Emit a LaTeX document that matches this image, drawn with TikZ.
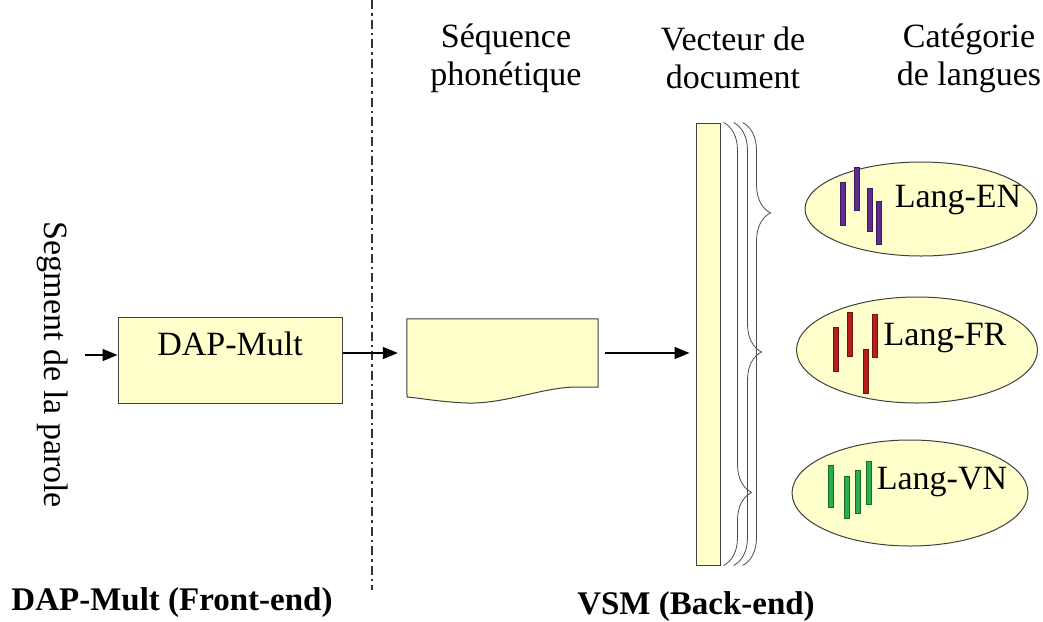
\documentclass[tikz,border=0pt]{standalone}
\usepackage{fontspec}
\setmainfont{Liberation Serif}
\usetikzlibrary{shapes.geometric,arrows.meta,decorations.pathreplacing}

\definecolor{paleyellow}{RGB}{255,255,204}
\definecolor{enpurple}{RGB}{95,45,145}
\definecolor{frred}{RGB}{185,30,30}
\definecolor{vngreen}{RGB}{40,175,75}
\newcommand{\txtsize}{\fontsize{34}{38}\selectfont}
\newcommand{\capsize}{\fontsize{33}{38}\selectfont\bfseries}

\begin{document}
\begin{tikzpicture}[x=1pt,y=-1pt,
	box/.style={draw=black!75, fill=paleyellow, line width=1pt},
	flow/.style={-{Triangle[length=15pt,width=12pt]}, line width=1.5pt},
	brc/.style={draw=black!70, line width=0.8pt, decorate, decoration={brace, amplitude=28pt, aspect=#1}},
	langbar/.style={fill=#1, draw=#1!60!black, line width=0.6pt}]
	\tikzstyle{every node}+=[inner sep=0pt, font=\txtsize]
	\useasboundingbox (0,0) rectangle (1043,621);
	% front-end
	\draw [black!80, line width=1.3pt, dash pattern=on 9pt off 4pt on 2.5pt off 4pt] (372,0) -- (372,590);
	\node (seg) at (53,365) [rotate=-90] {Segment de la parole};
	\coordinate (in) at (85,355);
	\node (dap) at (230,360) [box, minimum width=224pt, minimum height=86pt] {};
	\node (daptxt) at (230,344) {DAP-Mult};
	\draw [flow] (in) -- (dap.west |- in);
	\node (frontlab) at (172,603) [font=\capsize] {DAP-Mult (Front-end)};
	% back-end
	\node (seq) at (502.5,353) [minimum width=191pt, minimum height=68pt] {};
	\draw [box] (seq.north west) -- (seq.north east) -- (seq.south east) -- (575,387)
		.. controls (540,388) and (505,404) .. (467,403)
		.. controls (440,402) and (420,398) .. (407,397) -- cycle;
	\draw [flow, shorten >=9pt] (dap.east |- seq.west) -- (seq.west);
	\node (vec) at (708,344) [box, minimum width=24pt, minimum height=442pt] {};
	\draw [flow, shorten <=7pt, shorten >=6pt] (seq.east) -- (vec.west |- seq.east);
	\draw [brc=0.835] ([xshift=3pt]vec.north east) -- ([xshift=3pt]vec.south east);
	\draw [brc=0.518] ([xshift=13pt]vec.north east) -- ([xshift=13pt]vec.south east);
	\draw [brc=0.204] ([xshift=22pt]vec.north east) -- ([xshift=22pt]vec.south east);
	\node (seqlab) at (506,58) [align=center] {Séquence\\phonétique};
	\node (veclab) at (733,58) [align=center] {Vecteur de\\document};
	\node (catlab) at (969,58) [align=center] {Catégorie\\de langues};
	\node (backlab) at (696,607) [font=\capsize] {VSM (Back-end)};
	% language categories
	\node (en) at (921,209) [ellipse, box, minimum width=232pt, minimum height=94pt] {};
	\node (fr) at (917,350) [ellipse, box, minimum width=241pt, minimum height=106pt] {};
	\node (vn) at (910,493) [ellipse, box, minimum width=236pt, minimum height=106pt] {};
	\node (entxt) at ([shift={(37,-9)}]en.center) {Lang-EN};
	\node (frtxt) at ([shift={(28,-12)}]fr.center) {Lang-FR};
	\node (vntxt) at ([shift={(32,-11)}]vn.center) {Lang-VN};
	\filldraw [langbar=enpurple] (840.5,182) rectangle ++(5,43);
	\filldraw [langbar=enpurple] (854.5,167) rectangle ++(5,43);
	\filldraw [langbar=enpurple] (867.5,188) rectangle ++(5,43);
	\filldraw [langbar=enpurple] (876.5,201) rectangle ++(5,43);
	\filldraw [langbar=frred] (833.5,327) rectangle ++(5,44);
	\filldraw [langbar=frred] (847.5,312) rectangle ++(5,44);
	\filldraw [langbar=frred] (863.5,349) rectangle ++(5,44);
	\filldraw [langbar=frred] (872.5,314) rectangle ++(5,43);
	\filldraw [langbar=vngreen] (828.5,465) rectangle ++(5,42);
	\filldraw [langbar=vngreen] (844.5,476) rectangle ++(5,42);
	\filldraw [langbar=vngreen] (855.5,470) rectangle ++(5,43);
	\filldraw [langbar=vngreen] (866.5,461) rectangle ++(5,43);
\end{tikzpicture}
\end{document}
